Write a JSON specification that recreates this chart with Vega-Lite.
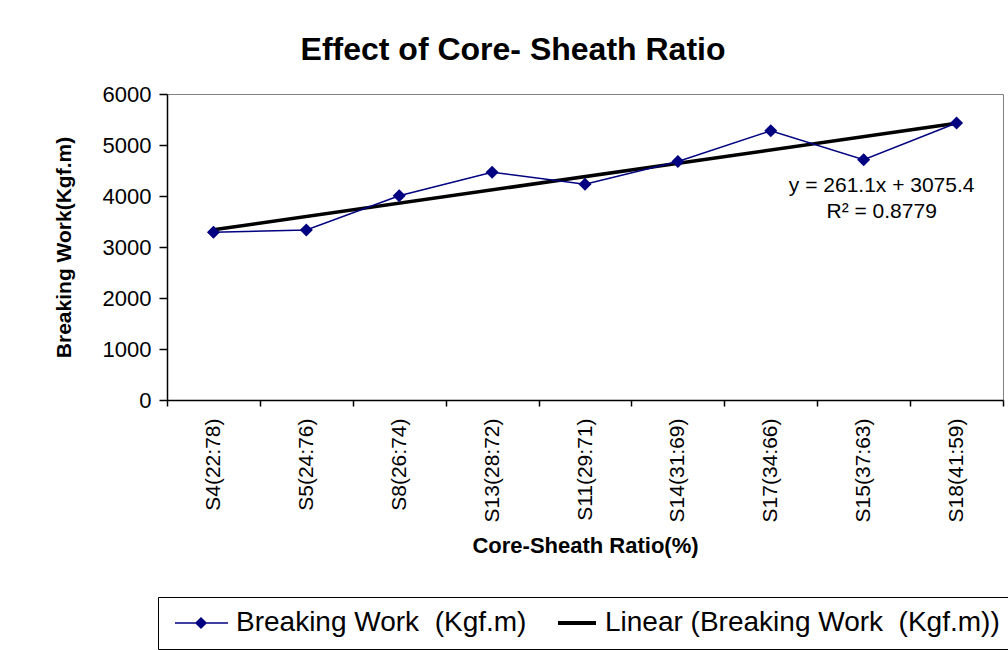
{
  "$schema": "https://vega.github.io/schema/vega-lite/v6.json",
  "width": 836,
  "height": 306,
  "autosize": {"type": "none"},
  "padding": {"left": 167, "top": 94, "right": 5, "bottom": 250},
  "background": "white",
  "config": {
    "font": "Liberation Sans",
    "view": {"stroke": "#808080", "strokeWidth": 1},
    "axis": {"grid": false, "domainColor": "black", "tickColor": "black", "labelColor": "black", "titleColor": "black", "labelFont": "Liberation Sans", "titleFont": "Liberation Sans"}
  },
  "title": {
    "text": "Effect of Core- Sheath Ratio",
    "fontSize": 32,
    "fontWeight": "bold",
    "font": "Liberation Sans",
    "color": "black",
    "anchor": "middle",
    "dx": -72,
    "offset": 16
  },
  "datasets": {
    "main": [
      {"cat": "S4(22:78)", "series": "Breaking Work \u00a0(Kgf.m)", "value": 3288},
      {"cat": "S5(24:76)", "series": "Breaking Work \u00a0(Kgf.m)", "value": 3333},
      {"cat": "S8(26:74)", "series": "Breaking Work \u00a0(Kgf.m)", "value": 4006},
      {"cat": "S13(28:72)", "series": "Breaking Work \u00a0(Kgf.m)", "value": 4465},
      {"cat": "S11(29:71)", "series": "Breaking Work \u00a0(Kgf.m)", "value": 4229},
      {"cat": "S14(31:69)", "series": "Breaking Work \u00a0(Kgf.m)", "value": 4678},
      {"cat": "S17(34:66)", "series": "Breaking Work \u00a0(Kgf.m)", "value": 5278},
      {"cat": "S15(37:63)", "series": "Breaking Work \u00a0(Kgf.m)", "value": 4712},
      {"cat": "S18(41:59)", "series": "Breaking Work \u00a0(Kgf.m)", "value": 5431}
    ],
    "trend": [
      {"cat": "S4(22:78)", "series": "Linear (Breaking Work \u00a0(Kgf.m))", "value": 3336.5},
      {"cat": "S18(41:59)", "series": "Linear (Breaking Work \u00a0(Kgf.m))", "value": 5425.3}
    ],
    "eq": [
      {"cat": "S15(37:63)", "value": 4080, "txt": "y = 261.1x + 3075.4"},
      {"cat": "S15(37:63)", "value": 3570, "txt": "R² = 0.8779"}
    ]
  },
  "layer": [
    {
      "data": {"name": "trend"},
      "mark": {"type": "line", "strokeWidth": 3.5},
      "encoding": {
        "x": {"field": "cat", "type": "nominal",
          "scale": {"type": "band", "paddingInner": 0, "paddingOuter": 0, "domain": ["S4(22:78)", "S5(24:76)", "S8(26:74)", "S13(28:72)", "S11(29:71)", "S14(31:69)", "S17(34:66)", "S15(37:63)", "S18(41:59)"]},
          "axis": {"title": "Core-Sheath Ratio(%)", "labelAngle": -90, "labelFontSize": 21, "tickSize": 6, "tickBand": "extent", "labelPadding": 12, "titleFontSize": 22, "titleFontWeight": "bold", "titlePadding": 14, "domainWidth": 1.5, "tickWidth": 1.5}},
        "y": {"field": "value", "type": "quantitative",
          "scale": {"domain": [0, 6000], "nice": false, "zero": true},
          "axis": {"title": "Breaking Work(Kgf.m)", "format": "d", "values": [0, 1000, 2000, 3000, 4000, 5000, 6000], "labelFontSize": 22, "tickSize": 8, "labelPadding": 8, "titleFontSize": 21, "titleFontWeight": "bold", "titlePadding": 28, "domainWidth": 1.5, "tickWidth": 1.5}},
        "color": {"field": "series", "type": "nominal",
          "scale": {"domain": ["Breaking Work \u00a0(Kgf.m)", "Linear (Breaking Work \u00a0(Kgf.m))"], "range": ["#000080", "#000000"]},
          "legend": {
            "orient": "none", "legendX": -9, "legendY": 503, "direction": "horizontal", "title": null,
            "labelFontSize": 28, "labelColor": "black", "labelLimit": 600, "labelFont": "Liberation Sans",
            "symbolSize": 2500, "labelOffset": 38, "columnPadding": 12, "padding": 12,
            "strokeColor": "black",
            "encode": {
              "symbols": {"update": {
                "shape": {"signal": "datum.index === 0 ? 'M-0.36,0L1.76,0M0.68,-0.2L0.88,0L0.68,0.2L0.48,0Z' : 'M0.2,0L1.72,0'"},
                "fill": {"signal": "datum.index === 0 ? '#000080' : 'transparent'"},
                "stroke": {"signal": "datum.index === 0 ? '#000080' : '#000000'"},
                "strokeWidth": {"signal": "datum.index === 0 ? 1.5 : 4"},
                "size": {"value": 2500},
                "opacity": {"value": 1}
              }}
            }
          }}
      }
    },
    {
      "data": {"name": "main"},
      "mark": {"type": "line", "strokeWidth": 1.5, "point": {"shape": "diamond", "size": 170, "filled": true, "opacity": 1}},
      "encoding": {
        "x": {"field": "cat", "type": "nominal"},
        "y": {"field": "value", "type": "quantitative"},
        "color": {"field": "series", "type": "nominal"}
      }
    },
    {
      "data": {"name": "eq"},
      "mark": {"type": "text", "fontSize": 21, "align": "center", "baseline": "alphabetic", "dx": 18, "color": "black", "font": "Liberation Sans"},
      "encoding": {
        "x": {"field": "cat", "type": "nominal"},
        "y": {"field": "value", "type": "quantitative"},
        "text": {"field": "txt"}
      }
    }
  ]
}
